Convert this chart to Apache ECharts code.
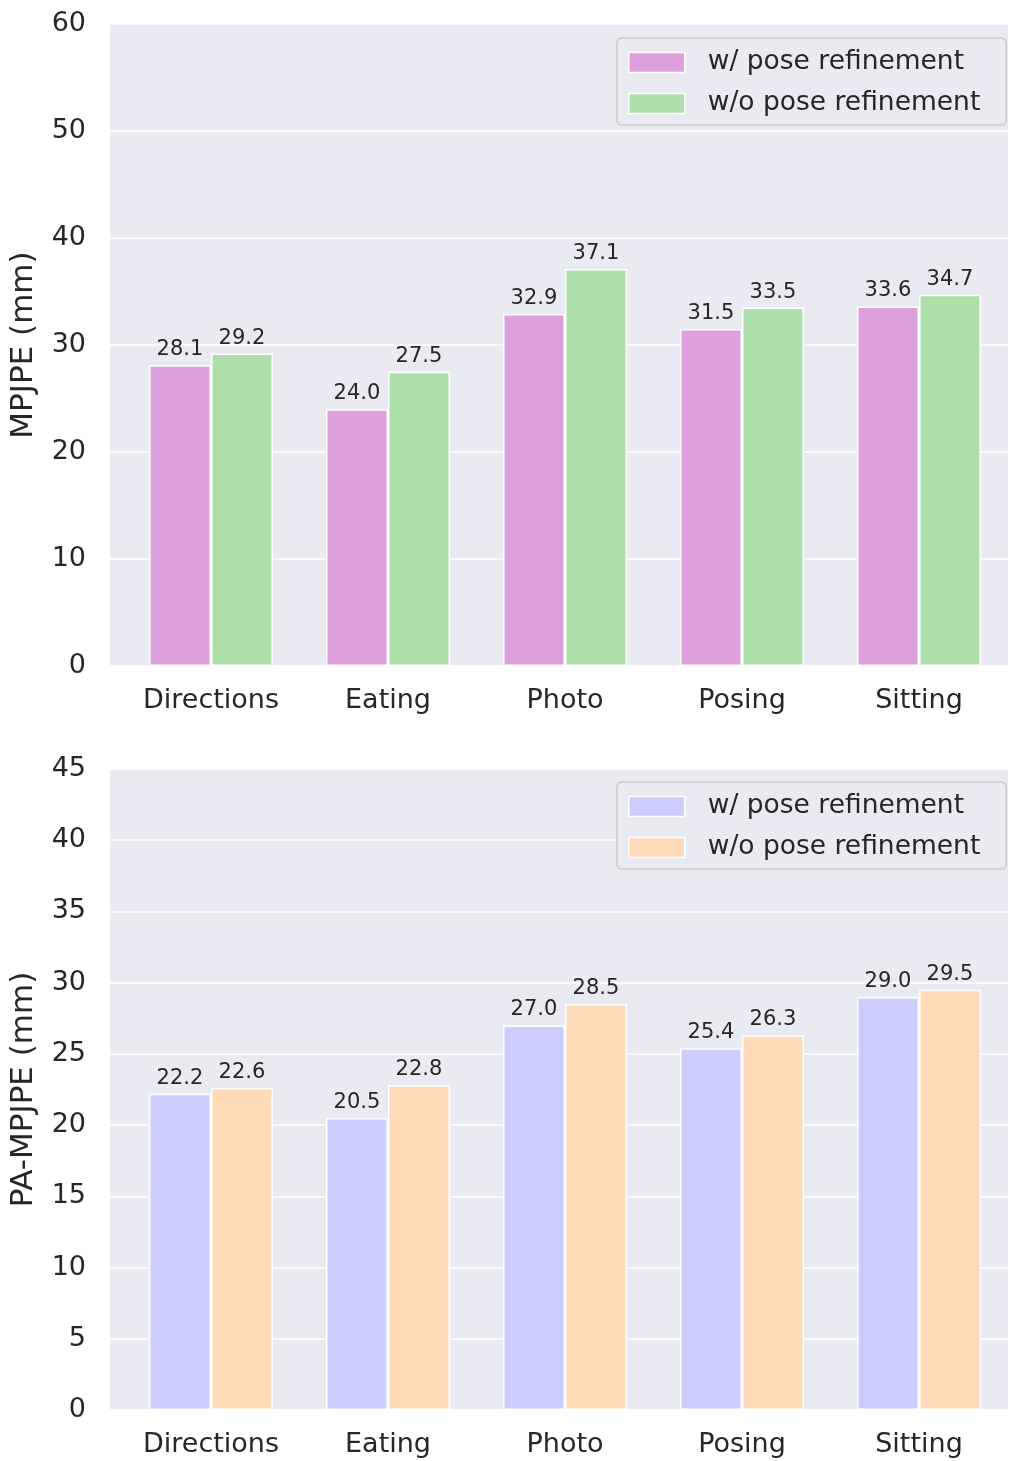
<!DOCTYPE html>
<html>
<head>
<meta charset="utf-8">
<script src="https://cdn.jsdelivr.net/npm/echarts@6/dist/echarts.min.js"></script>
<style>
html,body{margin:0;padding:0;background:#fff;}
#chart{width:1010px;height:1461px;}
</style>
</head>
<body>
<div id="chart"></div>
<script>
// Per-action errors on Human3.6M, with and without pose refinement
const categories = ['Directions', 'Eating', 'Photo', 'Posing', 'Sitting'];
const seriesNames = ['w/ pose refinement', 'w/o pose refinement'];

const mpjpeWith = [28.1, 24.0, 32.9, 31.5, 33.6];
const mpjpeWithout = [29.2, 27.5, 37.1, 33.5, 34.7];

const paMpjpeWith = [22.2, 20.5, 27.0, 25.4, 29.0];
const paMpjpeWithout = [22.6, 22.8, 28.5, 26.3, 29.5];

const topTicks = {min: 0, max: 60, interval: 10};
const bottomTicks = {min: 0, max: 45, interval: 5};

const TEXT = '#262626';
const FONT = 'DejaVu Sans';

// panel geometry: background grid spans the full plot area,
// bar grid is narrower so category centres land where the bars sit
const panels = [
  {top: 24, height: 642, title: 'MPJPE (mm)', ticks: topTicks,
   data: [mpjpeWith, mpjpeWithout], colors: ['#DDA0DD', '#ACDFAA'], legendTop: 38},
  {top: 769, height: 641, title: 'PA-MPJPE (mm)', ticks: bottomTicks,
   data: [paMpjpeWith, paMpjpeWithout], colors: ['#CCCCFF', '#FFDAB9'], legendTop: 782}
];

const grid = [], xAxis = [], yAxis = [], series = [], legend = [];

panels.forEach((p) => {
  const bg = grid.length;
  grid.push({left: 110, width: 898, top: p.top, height: p.height,
             show: true, backgroundColor: '#EAEAF2', borderWidth: 0});
  const bars = grid.length;
  grid.push({left: 122.5, width: 885, top: p.top, height: p.height});

  xAxis.push({gridIndex: bg, type: 'value', show: false, min: 0, max: 1});
  yAxis.push({
    gridIndex: bg, type: 'value', min: p.ticks.min, max: p.ticks.max, interval: p.ticks.interval,
    name: p.title, nameLocation: 'middle', nameGap: 71,
    nameTextStyle: {fontFamily: FONT, fontSize: 31, color: TEXT},
    axisLine: {show: false}, axisTick: {show: false},
    axisLabel: {fontFamily: FONT, fontSize: 27, color: TEXT, margin: 24},
    splitLine: {show: true, lineStyle: {color: '#ffffff', width: 1.5}}
  });

  const xa = xAxis.length;
  xAxis.push({
    gridIndex: bars, type: 'category', data: categories,
    axisLine: {show: false}, axisTick: {show: false},
    axisLabel: {fontFamily: FONT, fontSize: 27, color: TEXT, margin: 21}
  });
  const ya = yAxis.length;
  yAxis.push({gridIndex: bars, type: 'value', show: false,
              min: p.ticks.min, max: p.ticks.max, interval: p.ticks.interval,
              splitLine: {show: false}});

  const legendData = [];
  p.data.forEach((vals, k) => {
    legendData.push({name: seriesNames[k], itemStyle: {color: p.colors[k]}});
    series.push({
      name: seriesNames[k], type: 'bar', xAxisIndex: xa, yAxisIndex: ya,
      data: vals, barWidth: 62, barGap: '0%',
      itemStyle: {color: p.colors[k], borderColor: '#ffffff', borderWidth: 1.5},
      label: {show: true, position: 'top', distance: 5,
              fontFamily: FONT, fontSize: 21, color: TEXT,
              formatter: (d) => d.value.toFixed(1)}
    });
  });

  legend.push({
    data: legendData, orient: 'vertical', left: 617, top: p.legendTop,
    itemWidth: 56, itemHeight: 20, itemGap: 14,
    padding: [11, 26, 8, 11],
    backgroundColor: 'rgba(234,234,242,0.9)', borderColor: '#CCCCCC', borderWidth: 1.5, borderRadius: 5,
    icon: 'rect',
    itemStyle: {borderColor: '#ffffff', borderWidth: 1.5},
    textStyle: {fontFamily: FONT, fontSize: 26.5, color: TEXT, padding: [0, 0, 0, 18]},
    selectedMode: false
  });
});

const chart = echarts.init(document.getElementById('chart'), null, {renderer: 'canvas'});
chart.setOption({
  animation: false,
  backgroundColor: '#ffffff',
  grid, xAxis, yAxis, series, legend
});
</script>
</body>
</html>
